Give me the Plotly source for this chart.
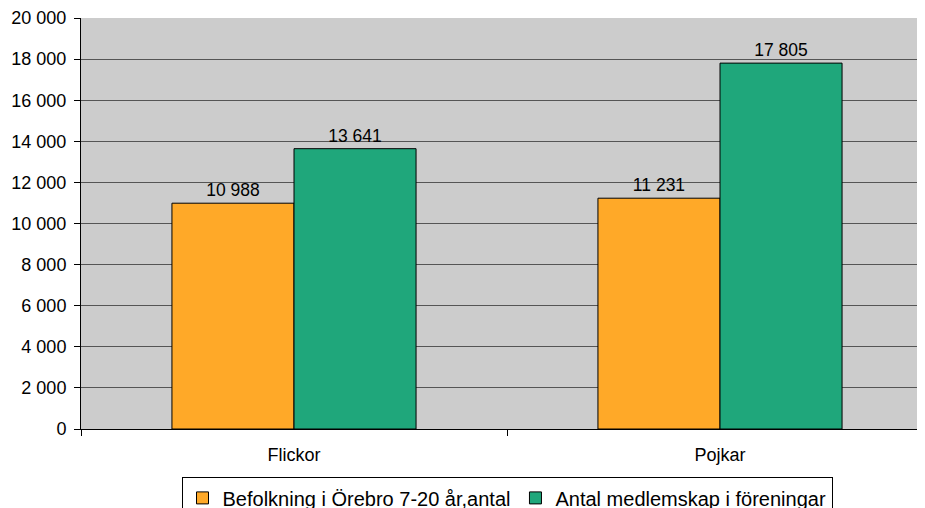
import plotly.graph_objects as go

categories = ["Flickor", "Pojkar"]
befolkning = [10988, 11231]
medlemskap = [13641, 17805]
series_names = ["Befolkning i Örebro 7-20 år,antal", "Antal medlemskap i föreningar"]

FONT = "Liberation Sans, Arial, sans-serif"

fig = go.Figure()
fig.add_trace(go.Bar(
    x=categories, y=befolkning, name=series_names[0],
    marker=dict(color="#FFA928", line=dict(color="#000000", width=1)),
    text=befolkning, texttemplate="%{y:,d}", textposition="outside",
    textfont=dict(size=17.5, color="#000000"), cliponaxis=False,
))
fig.add_trace(go.Bar(
    x=categories, y=medlemskap, name=series_names[1],
    marker=dict(color="#1FA77B", line=dict(color="#000000", width=1)),
    text=medlemskap, texttemplate="%{y:,d}", textposition="outside",
    textfont=dict(size=17.5, color="#000000"), cliponaxis=False,
))

# the page puts the figure 8px in from the top-left corner, so margins allow for that
fig.update_layout(
    width=925, height=508,
    margin=dict(l=73, r=0, t=10, b=87, autoexpand=False),
    paper_bgcolor="#FFFFFF", plot_bgcolor="#CCCCCC",
    font=dict(family=FONT, size=18, color="#000000"),
    separators=", ",
    barmode="group", bargap=0.427, bargroupgap=0,
    showlegend=True,
    legend=dict(
        orientation="h", xref="paper", yref="container",
        x=0.5, xanchor="center", y=0.076, yanchor="top",
        bordercolor="#000000", borderwidth=1, font=dict(size=20),
        itemwidth=30, tracegroupgap=0,
    ),
)
fig.update_xaxes(
    automargin=False,
    showline=True, linecolor="#000000", linewidth=1,
    ticks="outside", tickson="boundaries", ticklen=6, tickcolor="#000000",
    tickfont=dict(size=18), showgrid=False, ticklabelstandoff=9,
)
fig.update_yaxes(
    automargin=False,
    range=[0, 20000], dtick=2000, tickformat=",d",
    showline=True, linecolor="#000000", linewidth=1,
    ticks="outside", ticklen=6, tickcolor="#000000",
    gridcolor="#555555", gridwidth=1, zeroline=False,
    tickfont=dict(size=18), ticklabelstandoff=4,
)

fig.write_html("out.html")
